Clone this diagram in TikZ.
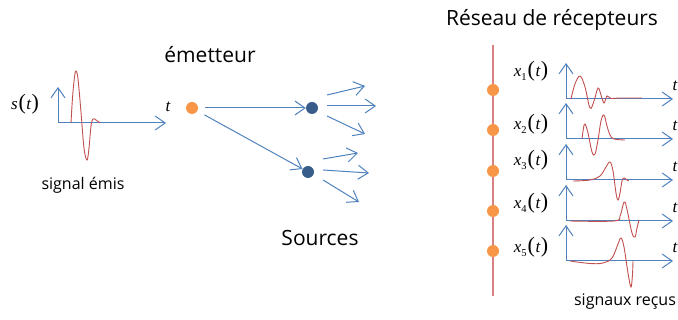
\documentclass[tikz,border=0pt]{standalone}
\usepackage{fontspec}
\setmainfont{Open Sans}
\newfontfamily\tms{Liberation Serif}
\usetikzlibrary{arrows.meta}
\definecolor{bleu}{HTML}{4F81BD}
\definecolor{rouge}{HTML}{C0504D}
\definecolor{orange}{HTML}{F79646}
\definecolor{bleufonce}{HTML}{385D8A}
\definecolor{rougeclair}{HTML}{D88080}
% 信号标签 x_i(t)
\newcommand{\sigl}[2]{{\tms\itshape #1}\raisebox{-0.45ex}{\tms\fontsize{10.5}{10}\selectfont #2}\kern1pt{\tms\fontsize{22}{22}\selectfont(}\kern0.5pt{\tms\itshape t}\kern0.5pt{\tms\fontsize{22}{22}\selectfont)}}
\begin{document}
\begin{tikzpicture}[x=1pt, y=-1pt,
    fleche/.style={bleu, line width=1pt, -{Straight Barb[length=10pt, width=14pt]}},
    axe/.style={bleu, line width=1pt, {Straight Barb[length=10pt, width=14pt]}-{Straight Barb[length=10pt, width=14pt]}},
    onde/.style={rouge, line width=0.9pt, smooth, tension=0.6},
    point/.style={circle, inner sep=0pt, minimum size=12pt},
    titre/.style={font=\fontsize{21}{24}\selectfont},
    legende/.style={font=\fontsize{16}{18}\selectfont},
    math/.style={font=\tms\itshape\fontsize{17}{18}\selectfont}]
    \useasboundingbox (0,0) rectangle (678,320);

    % 发射信号
    \coordinate (o0) at (58,123);
    \draw[axe] (58,87) -- (o0) -- (166,123);
    \draw[onde] plot coordinates {(71,123) (72.5,98) (74.5,77) (76,71) (78,79) (81,112) (84,148) (87,160) (89,148) (91,126) (93,119) (96,120) (100,123)};
    \node[font=\fontsize{17}{18}\selectfont] (s) at (25,104) {\sigl{s}{}};
    \node[math] (t0) at (168,107) {t};
    \node[legende] (emis) at (83,185) {signal émis};

    % 发射器与源
    \node[titre] (titem) at (210,55) {émetteur};
    \node[point, fill=orange] (em) at (192,108) {};
    \node[point, fill=bleufonce] (s1) at (312,108) {};
    \node[point, fill=bleufonce] (s2) at (308,172) {};
    \draw[fleche, shorten <=7pt] (em) -- (s1);
    \draw[fleche, shorten <=8pt] (em) -- (s2);
    \node[titre] (src) at (320,238) {Sources};

    % 源的散射箭头
    \foreach \n/\ax/\ay/\bx/\by/\cx/\cy in {1/365/86/376/106/365/134, 2/358/153/369/173/359/202}{
        \coordinate (s\n a) at (\ax,\ay);
        \coordinate (s\n b) at (\bx,\by);
        \coordinate (s\n c) at (\cx,\cy);
        \draw[fleche] (s\n) ++(15,-13) -- (s\n a);
        \draw[fleche] (s\n) ++(15,-2) -- (s\n b);
        \draw[fleche] (s\n) ++(15,8) -- (s\n c);
    }

    % 接收阵列
    \node[titre] (titrec) at (552,20) {Réseau de récepteurs};
    \coordinate (haut) at (493,45);
    \coordinate (bas) at (493,296);
    \draw[rougeclair, line width=1.2pt] (haut) -- (bas);
    \foreach \i/\yd/\yl/\yb in {1/90/71/99, 2/130/124/139, 3/171/160/180, 4/211/203/221, 5/251/247/261}{
        \node[point, fill=orange] (r\i) at (493,\yd) {};
        \node[font=\fontsize{17}{18}\selectfont] (l\i) at (531,\yl) {\sigl{x}{\i}};
        \coordinate (o\i) at (566,\yb);
        \draw[axe] (566,\yb-36) -- (o\i) -- (673,\yb);
        \node[math] (t\i) at (675,\yb-13) {t};
    }
    \node[legende] (recus) at (625,302) {signaux reçus};

    % 接收信号
    \draw[onde] plot coordinates {(571,99) (575,84) (580,76) (585,87) (590,108) (594,101) (598,88) (601,95) (604,103) (607,96) (611,98.5) (620,98) (642,98)};
    \draw[onde] plot coordinates {(582,139) (583.5,128) (585,124) (588,133) (592,152) (595,154) (598,140) (601,121) (604,115) (607,126) (610,135) (614,139) (625,140)};
    \draw[onde] plot coordinates {(573,181) (590,180) (600,176) (606,167) (610,162) (613,171) (616,193) (618,200) (620,193) (622,181) (624,178) (627,180) (629,181)};
    \draw[onde] plot coordinates {(570,221) (614,221) (620,216) (623,205) (625,202) (628,214) (632,233) (635,237) (637,228) (639,220)};
    \draw[onde] plot coordinates {(570,261) (590,263.5) (603,263) (612,258) (618,244) (621,238) (624,247) (628,273) (631,287) (632.5,274) (633,261)};
\end{tikzpicture}
\end{document}
